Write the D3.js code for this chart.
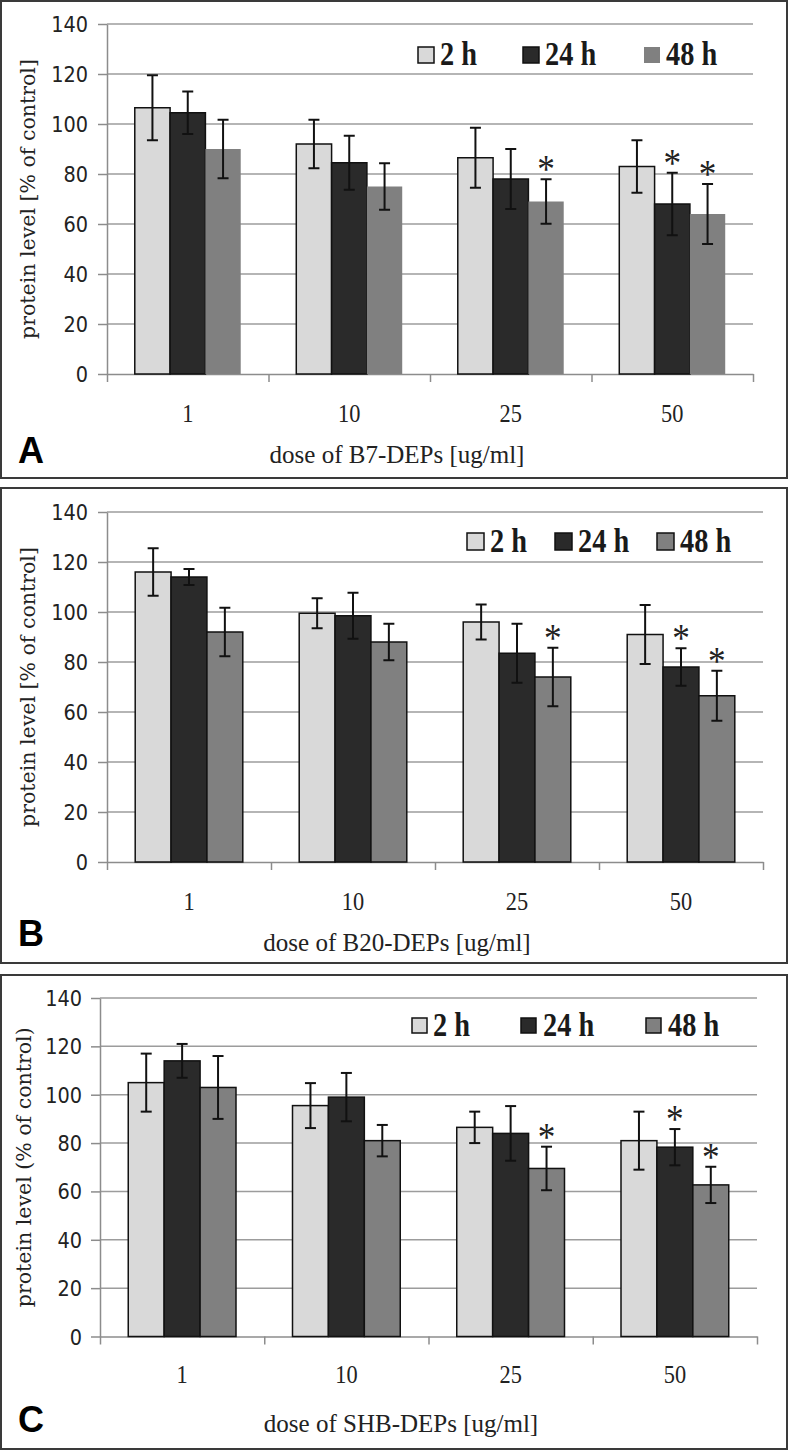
<!DOCTYPE html>
<html>
<head>
<meta charset="utf-8">
<script src="https://cdn.jsdelivr.net/npm/d3@7/dist/d3.min.js"></script>
<style>
body { margin: 0; background: #fff; }
</style>
</head>
<body>
<script>
// three panels, same layout, different DEP source
const doses = ["1", "10", "25", "50"];
const times = ["2 h", "24 h", "48 h"];
const yTicks = [0, 20, 40, 60, 80, 100, 120, 140];
const fills = ["#d9d9d9", "#2a2a2a", "#808080"];

// rows: 2 h, 24 h, 48 h ; columns follow doses
const meanA = [[106.5, 92, 86.5, 83], [104.5, 84.5, 78, 68], [90, 75, 69, 64]];
const errA = [[13, 9.7, 12, 10.5], [8.5, 10.8, 12, 12.5], [11.7, 9.3, 8.9, 12]];
const meanB = [[116, 99.5, 96, 91], [114, 98.5, 83.5, 78], [92, 88, 74, 66.5]];
const errB = [[9.5, 6, 7, 11.8], [3.2, 9.2, 11.8, 7.5], [9.7, 7.3, 11.7, 10]];
const meanC = [[105, 95.5, 86.5, 81], [114, 99, 84, 78.3], [103, 81, 69.5, 62.7]];
const errC = [[12, 9.3, 6.5, 12], [7, 10, 11.3, 7.5], [13, 6.5, 9, 7.5]];
// significant bars: [dose index, time index]
const starsA = [[2, 2], [3, 1], [3, 2]];
const starsB = [[2, 2], [3, 1], [3, 2]];
const starsC = [[2, 2], [3, 1], [3, 2]];

const width = 788, height = 1452;
const serif = "'Liberation Serif', 'Times New Roman', serif";

const svg = d3.select("body").append("svg")
  .attr("width", width)
  .attr("height", height);

// layout of each panel (frame, plot box, label spots)
const panels = [
  { tag: "A", mean: meanA, err: errA, stars: starsA,
    frame: [1, 1, 786, 477], left: 107, right: 753, top: 24, bottom: 374,
    ylab: "protein level [% of control]", ylabX: 28,
    xlab: "dose of B7-DEPs [ug/ml]", xlabX: 397, xlabY: 463, tagY: 463, tickY: 422,
    legY: 65, legSq: 16, legSqY: 47, legX: [[418, 440], [523, 545], [644, 666]], grayStroke: false },
  { tag: "B", mean: meanB, err: errB, stars: starsB,
    frame: [1, 488, 786, 475], left: 107, right: 763, top: 512, bottom: 862,
    ylab: "protein level [% of control]", ylabX: 28,
    xlab: "dose of B20-DEPs [ug/ml]", xlabX: 397, xlabY: 951, tagY: 946, tickY: 910,
    legY: 552, legSq: 17, legSqY: 533, legX: [[467, 490], [555, 578], [657, 680]], grayStroke: true },
  { tag: "C", mean: meanC, err: errC, stars: starsC,
    frame: [1, 975, 786, 474], left: 100, right: 757, top: 998, bottom: 1336.5,
    ylab: "protein level (% of control)", ylabX: 24,
    xlab: "dose of SHB-DEPs [ug/ml]", xlabX: 401, xlabY: 1432, tagY: 1432, tickY: 1383,
    legY: 1036, legSq: 15, legSqY: 1018, legX: [[412, 433], [521, 543], [646, 668]], grayStroke: true }
];

panels.forEach(function(p) {
  const w = p.right - p.left;
  const h = p.bottom - p.top;

  svg.append("rect")
    .attr("x", p.frame[0]).attr("y", p.frame[1])
    .attr("width", p.frame[2]).attr("height", p.frame[3])
    .attr("fill", "none").attr("stroke", "#3a3a3a").attr("stroke-width", 2);

  const g = svg.append("g").attr("transform", "translate(" + p.left + "," + p.top + ")");

  const y = d3.scaleLinear().domain([0, 140]).range([h, 0]);
  const x0 = d3.scaleBand().domain(doses).range([0, w]).paddingInner(0.344).paddingOuter(0.172);
  const x1 = d3.scaleBand().domain(times).range([0, x0.bandwidth()]);
  const xEdge = d3.scaleLinear().domain([0, doses.length]).range([0, w]);

  // gridlines
  g.selectAll(".grid").data(yTicks.slice(1)).enter().append("line")
    .attr("x1", 0).attr("x2", w)
    .attr("y1", d => y(d)).attr("y2", d => y(d))
    .attr("stroke", "#9c9c9c").attr("stroke-width", 1.5);

  // y axis
  const ya = g.append("g")
    .call(d3.axisLeft(y).tickValues(yTicks).tickSize(9).tickSizeOuter(0));
  ya.select(".domain").attr("stroke", "#8c8c8c").attr("stroke-width", 1.5);
  ya.selectAll(".tick line").attr("stroke", "#8c8c8c").attr("stroke-width", 1.5);
  ya.selectAll(".tick text")
    .attr("x", 0).attr("dy", "0.36em")
    .attr("transform", "translate(" + (p.tag == "C" ? -18 : -19) + ",0) scale(0.92,1)")
    .attr("font-family", "DejaVu Sans").attr("font-size", 21).attr("fill", "#222");

  // x axis with ticks between the groups
  const xa = g.append("g").attr("transform", "translate(0," + h + ")")
    .call(d3.axisBottom(xEdge).ticks(4).tickSize(8).tickSizeOuter(0).tickFormat(""));
  xa.select(".domain").attr("stroke", "#8c8c8c").attr("stroke-width", 1.5);
  xa.selectAll(".tick line").attr("stroke", "#8c8c8c").attr("stroke-width", 1.5);

  // category labels
  g.selectAll(".cat").data(doses).enter().append("text")
    .attr("transform", d => "translate(" + (x0(d) + x0.bandwidth() / 2) + "," + (p.tickY - p.top) + ") scale(0.86,1)")
    .attr("text-anchor", "middle")
    .attr("font-family", serif).attr("font-size", 26).attr("fill", "#222")
    .text(d => d);

  // bars
  const rows = [];
  times.forEach(function(t, ti) {
    doses.forEach(function(d, di) {
      rows.push({ dose: d, time: t, ti: ti, di: di, v: p.mean[ti][di], e: p.err[ti][di] });
    });
  });

  g.selectAll(".bar").data(rows).enter().append("rect")
    .attr("x", d => x0(d.dose) + x1(d.time))
    .attr("width", x1.bandwidth())
    .attr("y", d => y(d.v))
    .attr("height", d => h - y(d.v))
    .attr("fill", d => fills[d.ti])
    .attr("stroke", d => (d.ti == 2 && !p.grayStroke) ? "none" : "#111")
    .attr("stroke-width", 1.5);

  // error bars
  const eb = g.selectAll(".err").data(rows).enter().append("g")
    .attr("stroke", "#111").attr("stroke-width", 2);
  eb.append("line")
    .attr("x1", d => x0(d.dose) + x1(d.time) + x1.bandwidth() / 2)
    .attr("x2", d => x0(d.dose) + x1(d.time) + x1.bandwidth() / 2)
    .attr("y1", d => y(d.v + d.e)).attr("y2", d => y(d.v - d.e));
  [1, -1].forEach(function(s) {
    eb.append("line")
      .attr("x1", d => x0(d.dose) + x1(d.time) + x1.bandwidth() / 2 - 5.5)
      .attr("x2", d => x0(d.dose) + x1(d.time) + x1.bandwidth() / 2 + 5.5)
      .attr("y1", d => y(d.v + s * d.e)).attr("y2", d => y(d.v + s * d.e));
  });

  // asterisks
  g.selectAll(".star").data(p.stars).enter().append("text")
    .attr("transform", function(s) {
      const ti = s[1], di = s[0];
      const cx = x0(doses[di]) + x1(times[ti]) + x1.bandwidth() / 2;
      return "translate(" + cx + "," + (y(p.mean[ti][di] + p.err[ti][di]) + 3) + ") scale(0.88,1)";
    })
    .attr("text-anchor", "middle")
    .attr("font-family", serif).attr("font-size", 40).attr("fill", "#222")
    .text("*");

  // legend
  times.forEach(function(t, i) {
    svg.append("rect")
      .attr("x", p.legX[i][0]).attr("y", p.legSqY)
      .attr("width", p.legSq).attr("height", p.legSq)
      .attr("fill", fills[i])
      .attr("stroke", (i == 2 && !p.grayStroke) ? "none" : "#111")
      .attr("stroke-width", 1.5);
    svg.append("text")
      .attr("transform", "translate(" + p.legX[i][1] + "," + p.legY + ") scale(0.86,1)")
      .attr("font-family", serif).attr("font-weight", "bold")
      .attr("font-size", 33).attr("fill", "#1a1a1a")
      .text(t);
  });

  // axis titles
  svg.append("text")
    .attr("transform", "translate(" + p.ylabX + "," + ((p.top + p.bottom) / 2) + ") rotate(-90)")
    .attr("text-anchor", "middle").attr("dy", "0.35em")
    .attr("font-family", "DejaVu Serif").attr("font-size", 20.5).attr("fill", "#222")
    .text(p.ylab);

  svg.append("text")
    .attr("x", p.xlabX).attr("y", p.xlabY)
    .attr("text-anchor", "middle")
    .attr("font-family", serif).attr("font-size", 25).attr("fill", "#222")
    .text(p.xlab);

  svg.append("text")
    .attr("x", 18).attr("y", p.tagY)
    .attr("font-family", "Liberation Sans").attr("font-weight", "bold")
    .attr("font-size", 36).attr("fill", "#000")
    .text(p.tag);
});
</script>
</body>
</html>
